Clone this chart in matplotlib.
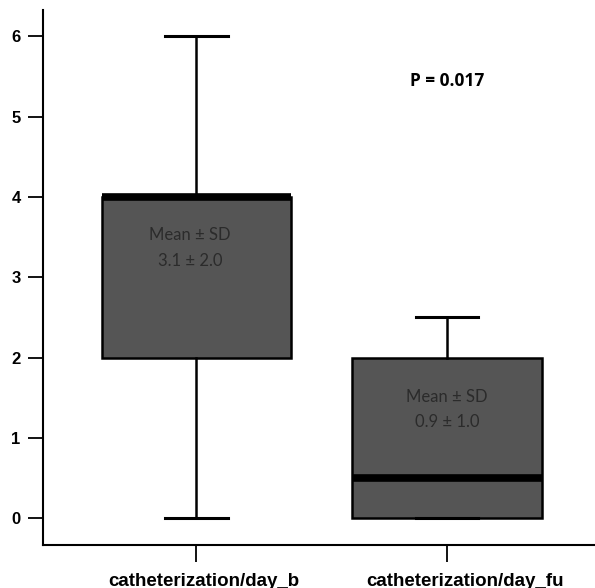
import matplotlib.pyplot as plt
import matplotlib.transforms as mtransforms

# values
categories = ["catheterization/day_b", "catheterization/day_fu"]
whis_low = [0.0, 0.0]
q1 = [2.0, 0.0]
medians = [4.0, 0.5]
q3 = [4.0, 2.0]
whis_high = [6.0, 2.5]
means = [3.1, 0.9]
sds = [2.0, 1.0]
p_text = "P = 0.017"

stats = []
for i in range(len(categories)):
    stats.append({"label": categories[i], "whislo": whis_low[i], "q1": q1[i],
                  "med": medians[i], "q3": q3[i], "whishi": whis_high[i],
                  "fliers": []})

fig = plt.figure(figsize=(5.95, 5.88), dpi=100)
ax = fig.add_axes([0.072, 0.073, 0.928, 0.91])

ax.bxp(stats, positions=[1, 2], widths=0.757, patch_artist=True,
       showfliers=False,
       boxprops=dict(facecolor="#555555", edgecolor="black", linewidth=1.8),
       medianprops=dict(color="black", linewidth=5.5, solid_capstyle="butt"),
       whiskerprops=dict(color="black", linewidth=1.8),
       capprops=dict(color="black", linewidth=2.2),
       capwidths=0.25)

# annotation spots inside each box (x offset, y of first line, y of second line)
note_pos = [(0.975, 3.53, 3.2), (2.0, 1.51, 1.2)]
for i in range(len(categories)):
    x, y1, y2 = note_pos[i]
    ax.text(x, y1, "Mean \u00b1 SD", ha="center", va="center", fontsize=12,
            color="#2b2b2b", family="Lato")
    ax.text(x, y2, "%.1f \u00b1 %.1f" % (means[i], sds[i]), ha="center",
            va="center", fontsize=12, color="#2b2b2b", family="Lato")

ax.text(2.0, 5.45, p_text, ha="center", va="center", fontsize=12.5,
        fontweight="bold", family="Open Sans")

ax.set_xlim(0.387, 2.59)
ax.set_ylim(-0.336, 6.33)
ax.set_yticks(range(0, 7))
ax.set_xticks([1, 2])
ax.set_xticklabels(categories)

for s in ["top", "right"]:
    ax.spines[s].set_visible(False)
for s in ["left", "bottom"]:
    ax.spines[s].set_linewidth(1.5)

ax.tick_params(axis="y", length=11, width=1.3, pad=5, labelsize=12)
ax.tick_params(axis="x", length=12, width=1.3, pad=8, labelsize=13.5)
for lab in ax.get_yticklabels() + ax.get_xticklabels():
    lab.set_fontweight("bold")
    lab.set_family("Liberation Sans")

# the category labels sit slightly right of their ticks
for lab, dx in zip(ax.get_xticklabels(), [7, 18]):
    lab.set_transform(lab.get_transform() + mtransforms.ScaledTranslation(dx / 100, 0, fig.dpi_scale_trans))

fig.savefig("out.png", dpi=100)
